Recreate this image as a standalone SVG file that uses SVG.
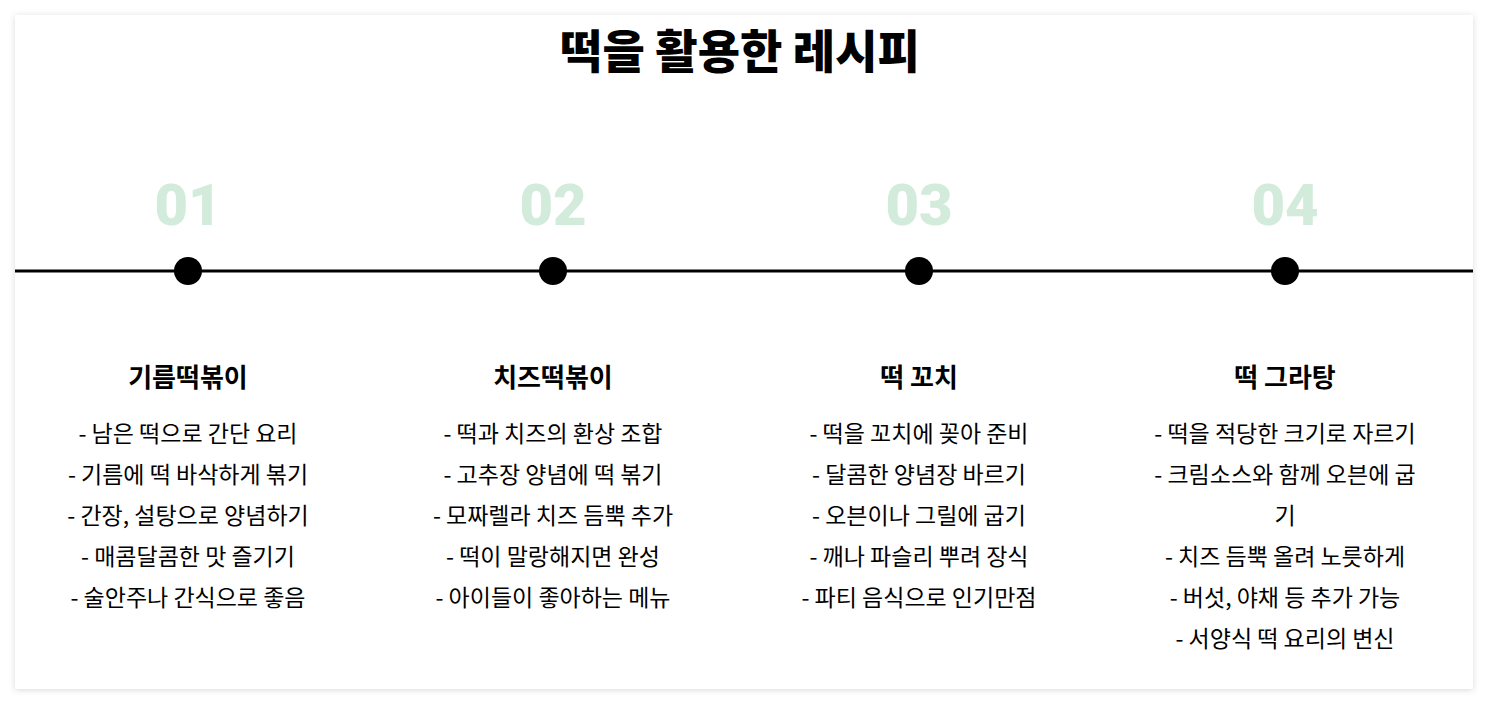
<svg xmlns="http://www.w3.org/2000/svg" width="1488" height="704" viewBox="0 0 1488 704">
<defs>
<filter id="sh" x="-5%" y="-5%" width="110%" height="110%"><feDropShadow dx="0" dy="1" stdDeviation="3" flood-color="#000" flood-opacity="0.15"/></filter>
<style>
text{font-family:"Noto Sans CJK KR","Noto Sans",sans-serif;text-anchor:middle;fill:#000}
.t{font-size:46px;font-weight:800}
.n{font-size:58px;font-weight:900;fill:#d2ebdb;font-family:Roboto,"Noto Sans",sans-serif}
.h{font-size:26px;font-weight:700}
.i{font-size:23px;font-weight:400}
.d{fill:#000}
</style>
</defs>
<rect width="1488" height="704" fill="#fff"/>
<rect x="15" y="15" width="1458" height="674" fill="#fff" filter="url(#sh)"/>
<text class="t" x="740" y="68">떡을 활용한 레시피</text>
<g id="connectors"><line x1="15" y1="271" x2="1473" y2="271" stroke="#000" stroke-width="3"/></g>
<g id="n1"><text class="n" x="188" y="225">01</text><circle class="d" cx="188" cy="271" r="14"/>
<text class="h" x="188" y="387">기름떡볶이</text>
<text class="i" x="188" y="442">- 남은 떡으로 간단 요리</text><text class="i" x="188" y="483">- 기름에 떡 바삭하게 볶기</text><text class="i" x="188" y="524">- 간장, 설탕으로 양념하기</text><text class="i" x="188" y="565">- 매콤달콤한 맛 즐기기</text><text class="i" x="188" y="606">- 술안주나 간식으로 좋음</text></g>
<g id="n2"><text class="n" x="553" y="225">02</text><circle class="d" cx="553" cy="271" r="14"/>
<text class="h" x="553" y="387">치즈떡볶이</text>
<text class="i" x="553" y="442">- 떡과 치즈의 환상 조합</text><text class="i" x="553" y="483">- 고추장 양념에 떡 볶기</text><text class="i" x="553" y="524">- 모짜렐라 치즈 듬뿍 추가</text><text class="i" x="553" y="565">- 떡이 말랑해지면 완성</text><text class="i" x="553" y="606">- 아이들이 좋아하는 메뉴</text></g>
<g id="n3"><text class="n" x="919" y="225">03</text><circle class="d" cx="919" cy="271" r="14"/>
<text class="h" x="919" y="387">떡 꼬치</text>
<text class="i" x="919" y="442">- 떡을 꼬치에 꽂아 준비</text><text class="i" x="919" y="483">- 달콤한 양념장 바르기</text><text class="i" x="919" y="524">- 오븐이나 그릴에 굽기</text><text class="i" x="919" y="565">- 깨나 파슬리 뿌려 장식</text><text class="i" x="919" y="606">- 파티 음식으로 인기만점</text></g>
<g id="n4"><text class="n" x="1285" y="225">04</text><circle class="d" cx="1285" cy="271" r="14"/>
<text class="h" x="1285" y="387">떡 그라탕</text>
<text class="i" x="1285" y="442">- 떡을 적당한 크기로 자르기</text><text class="i" x="1285" y="483">- 크림소스와 함께 오븐에 굽</text><text class="i" x="1285" y="524">기</text><text class="i" x="1285" y="565">- 치즈 듬뿍 올려 노릇하게</text><text class="i" x="1285" y="606">- 버섯, 야채 등 추가 가능</text><text class="i" x="1285" y="647">- 서양식 떡 요리의 변신</text></g>
</svg>
